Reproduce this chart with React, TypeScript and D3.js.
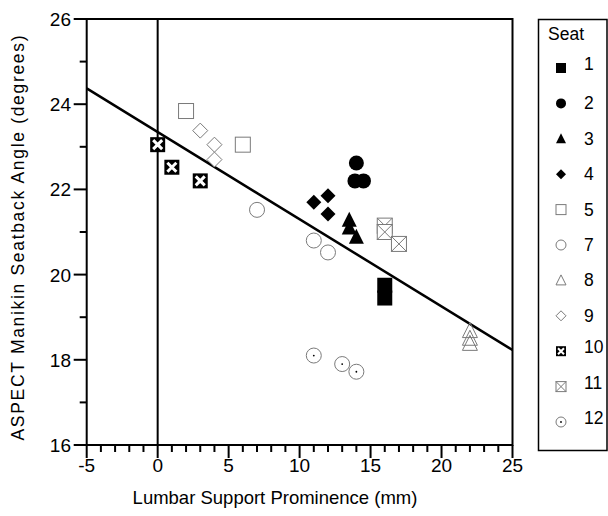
import React from "react";
import * as d3 from "d3";

const seats = ["1", "2", "3", "4", "5", "7", "8", "9", "10", "11", "12"];
const seatSymbols = [
  "filledSquare", "filledCircle", "filledTriangle", "filledDiamond",
  "openSquare", "openCircle", "openTriangle", "openDiamond",
  "xSquareFilled", "xSquareOpen", "dotCircle",
];
const seatX: number[][] = [
  [16, 16],
  [14, 13.9, 14.5],
  [13.5, 13.5, 14],
  [11, 12, 12],
  [2, 6],
  [7, 11, 12],
  [22, 22, 22],
  [3, 4, 4],
  [0, 1, 3],
  [16, 16, 17],
  [11, 13, 14],
];
const seatY: number[][] = [
  [19.75, 19.45],
  [22.62, 22.2, 22.2],
  [21.28, 21.1, 20.88],
  [21.7, 21.85, 21.42],
  [23.84, 23.05],
  [21.52, 20.8, 20.52],
  [18.68, 18.5, 18.38],
  [23.38, 23.05, 22.7],
  [23.05, 22.52, 22.2],
  [21.15, 21.0, 20.72],
  [18.1, 17.9, 17.72],
];
const fitX = [-5, 25];
const fitY = [24.37, 18.23];
const xTicks = [-5, 0, 5, 10, 15, 20, 25];
const yTicks = [16, 18, 20, 22, 24, 26];

const GRAY = "#7a7a7a";

function Marker({ kind, cx, cy, s }: { kind: string; cx: number; cy: number; s: number }) {
  const h = s / 2;
  switch (kind) {
    case "filledSquare":
      return <rect x={cx - h} y={cy - h} width={s} height={s} fill="#000" />;
    case "filledCircle":
      return <circle cx={cx} cy={cy} r={h} fill="#000" />;
    case "filledTriangle":
      return <path d={`M${cx},${cy - h * 1.1}L${cx + h},${cy + h * 0.9}L${cx - h},${cy + h * 0.9}Z`} fill="#000" />;
    case "filledDiamond":
      return <path d={`M${cx},${cy - h}L${cx + h},${cy}L${cx},${cy + h}L${cx - h},${cy}Z`} fill="#000" />;
    case "openSquare":
      return <rect x={cx - h} y={cy - h} width={s} height={s} fill="#fff" stroke={GRAY} strokeWidth={1} />;
    case "openCircle":
      return <circle cx={cx} cy={cy} r={h} fill="none" stroke={GRAY} strokeWidth={1} />;
    case "openTriangle":
      return <path d={`M${cx},${cy - h * 1.1}L${cx + h},${cy + h * 0.9}L${cx - h},${cy + h * 0.9}Z`} fill="none" stroke={GRAY} strokeWidth={1} />;
    case "openDiamond":
      return <path d={`M${cx},${cy - h}L${cx + h},${cy}L${cx},${cy + h}L${cx - h},${cy}Z`} fill="#fff" stroke={GRAY} strokeWidth={1} />;
    case "xSquareFilled":
      return (
        <g>
          <rect x={cx - h} y={cy - h} width={s} height={s} fill="#000" />
          <path d={`M${cx - h * 0.6},${cy - h * 0.6}L${cx + h * 0.6},${cy + h * 0.6}M${cx + h * 0.6},${cy - h * 0.6}L${cx - h * 0.6},${cy + h * 0.6}`} stroke="#fff" strokeWidth={s * 0.2} />
        </g>
      );
    case "xSquareOpen":
      return (
        <g>
          <rect x={cx - h} y={cy - h} width={s} height={s} fill="#fff" stroke={GRAY} strokeWidth={1} />
          <path d={`M${cx - h},${cy - h}L${cx + h},${cy + h}M${cx + h},${cy - h}L${cx - h},${cy + h}`} stroke={GRAY} strokeWidth={1} />
        </g>
      );
    case "dotCircle":
      return (
        <g>
          <circle cx={cx} cy={cy} r={h} fill="none" stroke={GRAY} strokeWidth={1} />
          <circle cx={cx} cy={cy} r={0.9} fill="#000" />
        </g>
      );
    default:
      return null;
  }
}

export default function App() {
  const W = 608, H = 516;
  const x = d3.scaleLinear().domain([-5, 25]).range([86.7, 512.5]);
  const y = d3.scaleLinear().domain([16, 26]).range([445, 19]);
  const xMinor = d3.range(-5, 25.001, 1);
  const yMinor = d3.range(16, 26.001, 1);
  const font = "'Liberation Sans', Arial, Helvetica, sans-serif";
  const line = d3.line<number>().x((d, i) => x(fitX[i])).y((d, i) => y(fitY[i]));
  const legendTop = 68;
  const legendStep = 35.4;

  return (
    <svg width={W} height={H} style={{ position: "absolute", left: 0, top: 0, background: "#fff" }} fontFamily={font}>
      <rect width={W} height={H} fill="#fff" />
      {/* vertical zero line */}
      <line x1={x(0)} x2={x(0)} y1={y(26)} y2={y(16)} stroke="#000" strokeWidth={2} />
      {/* regression line */}
      <path d={line(fitY) || ""} fill="none" stroke="#000" strokeWidth={2.5} />
      {/* data */}
      {seats.map((s, i) =>
        seatX[i].map((v, j) => (
          <Marker key={`${s}-${j}`} kind={seatSymbols[i]} cx={x(v)} cy={y(seatY[i][j])} s={15} />
        ))
      )}
      {/* frame */}
      <rect x={x(-5)} y={y(26)} width={x(25) - x(-5)} height={y(16) - y(26)} fill="none" stroke="#000" strokeWidth={2} />
      {/* x ticks */}
      {xMinor.map((v) => {
        const major = Math.abs(v % 5) < 1e-9;
        return <line key={`xm${v}`} x1={x(v)} x2={x(v)} y1={y(16)} y2={y(16) + (major ? 13 : 7)} stroke="#000" strokeWidth={2} />;
      })}
      {xTicks.map((v) => (
        <text key={`xt${v}`} x={x(v)} y={472} fontSize={19} textAnchor="middle" fill="#000">{v}</text>
      ))}
      {/* y ticks */}
      {yMinor.map((v) => {
        const major = Math.abs(v % 2) < 1e-9;
        return <line key={`ym${v}`} x1={x(-5) - (major ? 13 : 7)} x2={x(-5)} y1={y(v)} y2={y(v)} stroke="#000" strokeWidth={2} />;
      })}
      {yTicks.map((v) => (
        <text key={`yt${v}`} x={71} y={y(v) + 7} fontSize={19} textAnchor="end" fill="#000">{v}</text>
      ))}
      {/* axis titles */}
      <text x={275} y={504} fontSize={18.5} textAnchor="middle" fill="#000">Lumbar Support Prominence (mm)</text>
      <text transform={`translate(24,238) rotate(-90)`} fontSize={17.5} textAnchor="middle" textLength={405} lengthAdjust="spacing" fill="#000">ASPECT Manikin Seatback Angle (degrees)</text>
      {/* legend */}
      <rect x={538.5} y={19.5} width={68.5} height={431} fill="none" stroke="#000" strokeWidth={1.5} />
      <text x={548} y={40} fontSize={17.5} fill="#000">Seat</text>
      {seats.map((s, i) => (
        <g key={`lg${s}`}>
          <Marker kind={seatSymbols[i]} cx={561} cy={legendTop + i * legendStep} s={10} />
          <text x={584} y={legendTop + i * legendStep + (i === 0 || i >= 8 ? 2 : 6)} fontSize={17.5} fill="#000">{s}</text>
        </g>
      ))}
    </svg>
  );
}
